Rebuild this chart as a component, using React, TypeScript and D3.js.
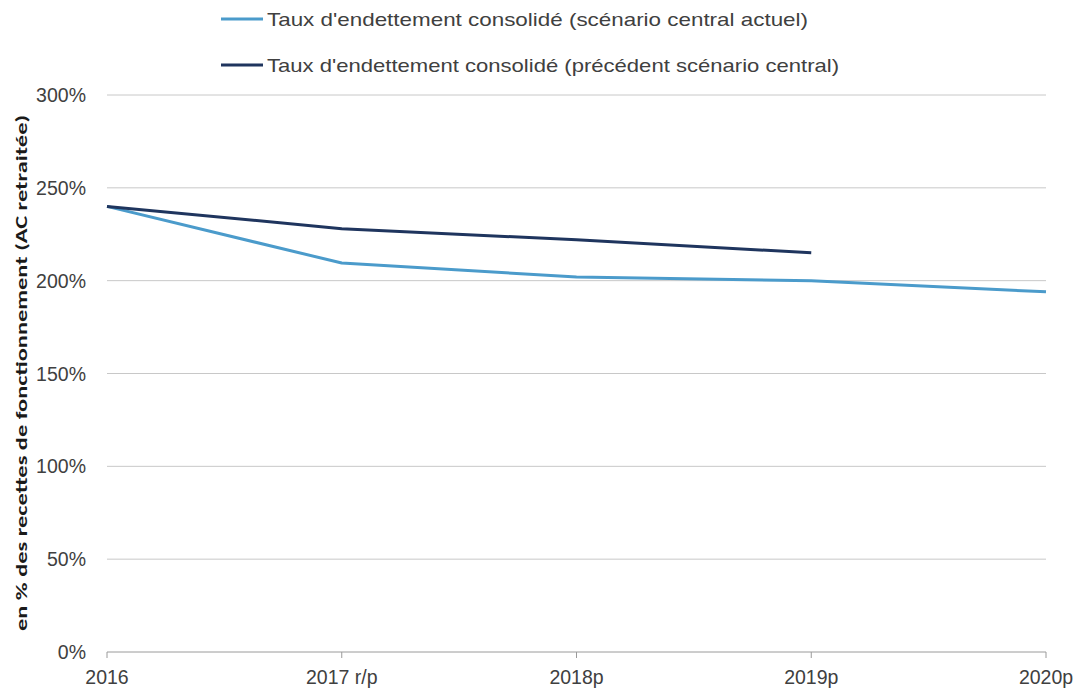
import React from "react";
import * as d3 from "d3";

const categories = ["2016", "2017 r/p", "2018p", "2019p", "2020p"];
const actuel = [240, 209.5, 202, 200, 194];
const precedent = [240, 228, 222, 215];
const yTicks = [0, 50, 100, 150, 200, 250, 300];
const legendLabels = [
  "Taux d'endettement consolidé (scénario central actuel)",
  "Taux d'endettement consolidé (précédent scénario central)",
];
const yTitle = "en % des recettes de fonctionnement  (AC retraitée)";

const W = 1078;
const H = 690;
const left = 107;
const right = 1046;
const top = 95;
const bottom = 652;

const LIGHT = "#4b9bcb";
const DARK = "#1f355e";
const FONT = "'Liberation Sans', Arial, sans-serif";

export default function App() {
  const x = d3.scalePoint<string>().domain(categories).range([left, right]);
  const y = d3.scaleLinear().domain([0, 300]).range([bottom, top]);
  const line = d3
    .line<number>()
    .x((_, i) => x(categories[i]) as number)
    .y((d) => y(d));

  return (
    <svg
      width={W}
      height={H}
      style={{ position: "absolute", left: 0, top: 0, background: "#fff" }}
    >
      {yTicks.map((t) =>
        t === 0 ? null : (
          <line key={t} x1={left} x2={right} y1={y(t)} y2={y(t)} stroke="#c8c8c8" strokeWidth={1} />
        )
      )}
      <line x1={left} x2={right} y1={bottom} y2={bottom} stroke="#9a9a9a" strokeWidth={1} />
      {categories.map((c) => (
        <line key={c} x1={x(c)} x2={x(c)} y1={bottom} y2={bottom + 6} stroke="#9a9a9a" strokeWidth={1} />
      ))}
      {yTicks.map((t) => (
        <text key={t} x={86} y={y(t) + 7} textAnchor="end" fontFamily={FONT} fontSize={19.5} fill="#404040">
          {t}%
        </text>
      ))}
      {categories.map((c) => (
        <text key={c} x={x(c)} y={684} textAnchor="middle" fontFamily={FONT} fontSize={19.5} fill="#404040">
          {c}
        </text>
      ))}
      <text
        transform={`translate(27, ${373}) rotate(-90)`}
        textAnchor="middle"
        fontFamily="Carlito, 'Open Sans', sans-serif"
        fontWeight="bold"
        fontSize={16}
        fill="#1a1a1a"
        textLength={516}
        lengthAdjust="spacingAndGlyphs"
      >
        {yTitle}
      </text>
      <path d={line(actuel) || ""} fill="none" stroke={LIGHT} strokeWidth={3} strokeLinejoin="round" />
      <path d={line(precedent) || ""} fill="none" stroke={DARK} strokeWidth={3} strokeLinejoin="round" />
      {legendLabels.map((l, i) => (
        <g key={l} transform={`translate(0, ${19 + i * 46})`}>
          <line x1={221} x2={263} y1={0} y2={0} stroke={i === 0 ? LIGHT : DARK} strokeWidth={3} />
          <text
            x={267}
            y={7}
            fontFamily={FONT}
            fontSize={19}
            fill="#404040"
            textLength={i === 0 ? 541 : 572}
            lengthAdjust="spacingAndGlyphs"
          >
            {l}
          </text>
        </g>
      ))}
    </svg>
  );
}
